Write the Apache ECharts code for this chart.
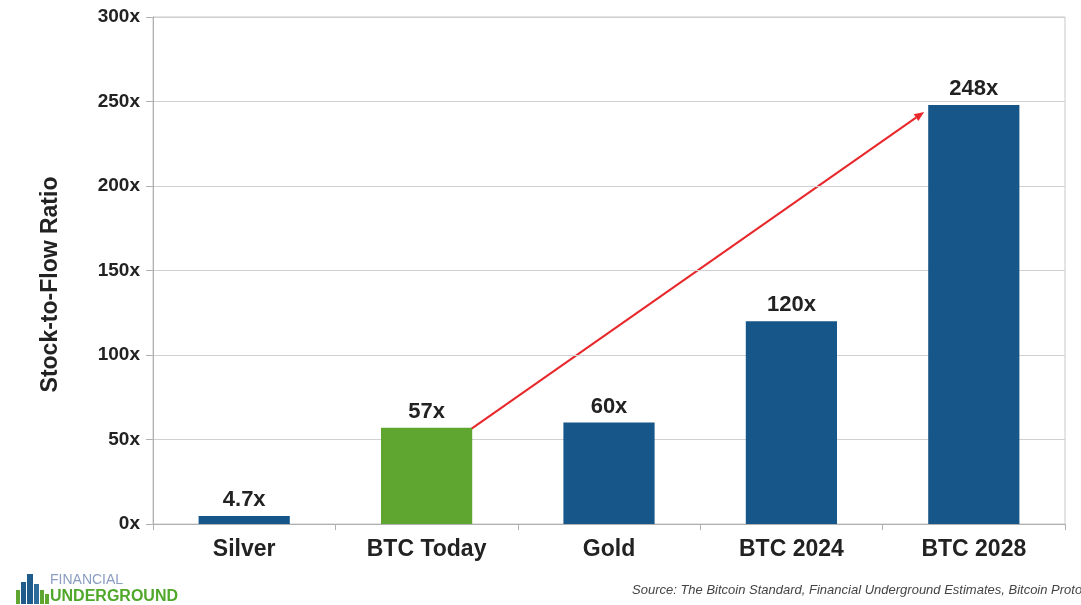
<!DOCTYPE html>
<html>
<head>
<meta charset="utf-8">
<script src="https://cdn.jsdelivr.net/npm/echarts@6/dist/echarts.min.js"></script>
<style>
html,body{margin:0;padding:0;background:#fff;}
#chart{width:1081px;height:605px;}
</style>
</head>
<body>
<div id="chart"></div>
<script>
const categories = ['Silver', 'BTC Today', 'Gold', 'BTC 2024', 'BTC 2028'];
const values = [4.7, 57, 60, 120, 248];
const valueLabels = ['4.7x', '57x', '60x', '120x', '248x'];
const barColors = ['#175688', '#5ea62f', '#175688', '#175688', '#175688'];
const yTicks = [0, 50, 100, 150, 200, 250, 300];
const yAxisTitle = 'Stock-to-Flow Ratio';
const sourceText = 'Source: The Bitcoin Standard, Financial Underground Estimates, Bitcoin Protocol';

const chart = echarts.init(document.getElementById('chart'));
const font = 'Liberation Sans, Arial, sans-serif';

const option = {
  animation: false,
  backgroundColor: '#fff',
  grid: { left: 153, right: 16, top: 17, bottom: 81, show: true, borderColor: '#c8c8c8', borderWidth: 1 },
  xAxis: {
    type: 'category',
    data: categories,
    axisLine: { lineStyle: { color: '#b0b0b0' } },
    axisTick: { show: true, alignWithLabel: false, interval: 0, length: 6, lineStyle: { color: '#b0b0b0' } },
    axisLabel: { color: '#222', fontWeight: 'bold', fontSize: 23, fontFamily: font, margin: 14 }
  },
  yAxis: {
    type: 'value',
    min: yTicks[0],
    max: yTicks[yTicks.length - 1],
    interval: 50,
    name: yAxisTitle,
    nameLocation: 'middle',
    nameGap: 91,
    nameTextStyle: { color: '#222', fontWeight: 'bold', fontSize: 23, fontFamily: font, padding: [0, 28, 0, 0] },
    axisLine: { show: true, lineStyle: { color: '#b0b0b0' } },
    axisTick: { show: true, length: 7, lineStyle: { color: '#b0b0b0' } },
    axisLabel: { color: '#222', fontWeight: 'bold', fontSize: 19, fontFamily: font, margin: 13,
      formatter: v => v + 'x' },
    splitLine: { lineStyle: { color: '#d0d0d0' } }
  },
  series: [{
    type: 'bar',
    barWidth: '50%',
    data: values.map((v, i) => ({ value: v, itemStyle: { color: barColors[i] } })),
    label: {
      show: true, position: 'top', distance: 5,
      color: '#222', fontWeight: 'bold', fontSize: 22, fontFamily: font,
      formatter: p => valueLabels[p.dataIndex]
    }
  }],
  graphic: [
    { type: 'rect', shape: { x: 16, y: 590, width: 4, height: 14 }, style: { fill: '#5ea62f' } },
    { type: 'rect', shape: { x: 21, y: 582, width: 5, height: 22 }, style: { fill: '#1f5c8c' } },
    { type: 'rect', shape: { x: 27, y: 574, width: 6, height: 30 }, style: { fill: '#1f5c8c' } },
    { type: 'rect', shape: { x: 34, y: 584, width: 5, height: 20 }, style: { fill: '#2e6d9b' } },
    { type: 'rect', shape: { x: 40, y: 590, width: 4, height: 14 }, style: { fill: '#5ea62f' } },
    { type: 'rect', shape: { x: 45, y: 594, width: 4, height: 10 }, style: { fill: '#5ea62f' } },
    { type: 'text', left: 50, top: 573, style: { text: 'FINANCIAL', fill: '#8a9cc0', font: '14px ' + font } },
    { type: 'text', left: 50, top: 589, style: { text: 'UNDERGROUND', fill: '#4fa82a', font: 'bold 16px ' + font } },
    { type: 'text', left: 632, top: 584, style: { text: sourceText, fill: '#444', font: 'italic 13px ' + font } }
  ]
};
chart.setOption(option);

const halfBar = (chart.convertToPixel({ xAxisIndex: 0 }, categories[1]) - chart.convertToPixel({ xAxisIndex: 0 }, categories[0])) * 0.25;
const p1 = chart.convertToPixel({ gridIndex: 0 }, [categories[1], values[1]]);
const p2 = chart.convertToPixel({ gridIndex: 0 }, [categories[4], values[4]]);
const x1 = p1[0] + halfBar - 2, y1 = p1[1] + 2;
const x2 = p2[0] - halfBar - 4, y2 = p2[1] + 7;
const ang = Math.atan2(y2 - y1, x2 - x1);
const ah = 10, aw = 4;
const bx = x2 - ah * Math.cos(ang), by = y2 - ah * Math.sin(ang);
chart.setOption({
  graphic: option.graphic.concat([
    { type: 'line', shape: { x1: x1, y1: y1, x2: bx, y2: by }, style: { stroke: '#e8282a', lineWidth: 2 } },
    { type: 'polygon', shape: { points: [
      [x2, y2],
      [bx + aw * Math.sin(ang), by - aw * Math.cos(ang)],
      [bx - aw * Math.sin(ang), by + aw * Math.cos(ang)]
    ] }, style: { fill: '#e8282a' } }
  ])
});
</script>
</body>
</html>
